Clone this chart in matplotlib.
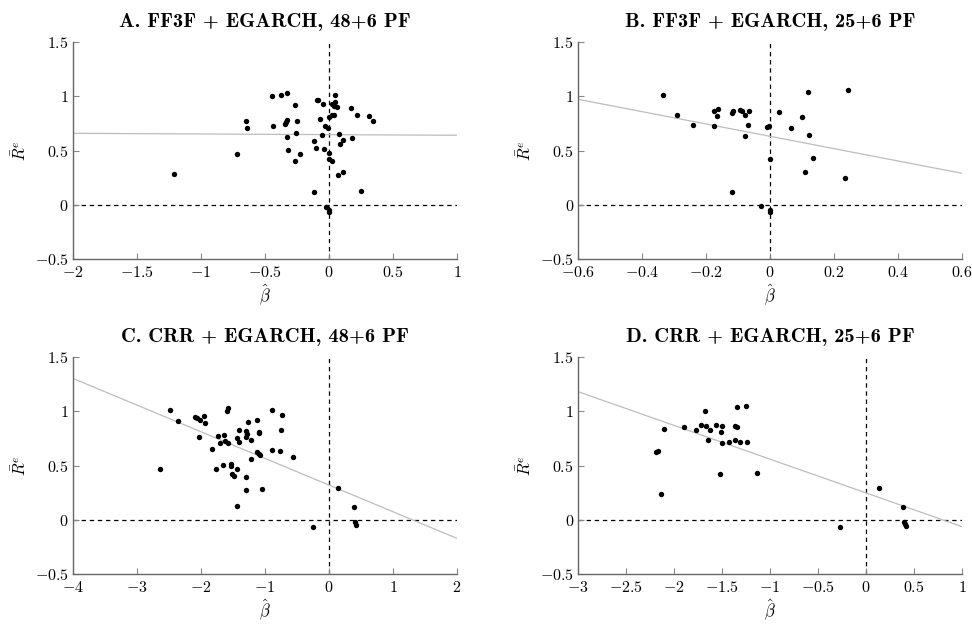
import matplotlib
matplotlib.use("Agg")
import matplotlib.pyplot as plt
import numpy as np
from matplotlib.ticker import FuncFormatter

plt.rcParams['mathtext.fontset'] = 'cm'
plt.rcParams['font.family'] = 'serif'
plt.rcParams['font.serif'] = ['cmr10', 'DejaVu Serif']
plt.rcParams['axes.unicode_minus'] = False

# average excess returns (same assets in both rows)
re_48 = [0.285, 0.472, 0.774, 0.712, 1.008, 1.011, 1.029, 0.925, 0.731, 0.743,
         0.765, 0.786, 0.771, 0.623, 0.660, 0.503, 0.472, 0.408, 0.971, 0.965,
         0.931, 0.789, 0.725, 0.712, 0.642, 0.589, 0.525, 0.512, 0.478, 0.426,
         0.402, 1.014, 0.952, 0.928, 0.912, 0.906, 0.808, 0.826, 0.832, 0.651,
         0.598, 0.562, 0.897, 0.829, 0.823, 0.774, 0.617, 0.278, 0.300, 0.122,
         0.128, -0.017, -0.048, -0.066]
beta_a = [-1.211, -0.716, -0.648, -0.641, -0.448, -0.378, -0.328, -0.266, -0.438, -0.344,
          -0.339, -0.326, -0.250, -0.326, -0.258, -0.318, -0.227, -0.263, -0.096, -0.089,
          -0.049, -0.070, -0.029, -0.005, -0.057, -0.115, -0.099, -0.039, 0.000, 0.000,
          0.026, 0.047, 0.047, 0.026, 0.039, 0.060, 0.000, 0.023, 0.036, 0.076,
          0.107, 0.089, 0.169, 0.221, 0.313, 0.346, 0.182, 0.070, 0.112, -0.115,
          0.247, -0.023, 0.000, 0.000]

re_c = [0.469, 1.011, 0.912, 0.952, 0.937, 0.922, 0.962, 0.894, 0.768, 0.654,
        0.771, 0.706, 0.780, 0.725, 0.709, 1.008, 1.029, 0.469, 0.503, 0.515,
        0.494, 0.420, 0.405, 0.472, 0.826, 0.758, 0.722, 0.823, 0.795, 0.768,
        0.734, 0.903, 0.558, 0.395, 0.272, 0.125, 0.918, 0.805, 0.814, 0.623,
        0.611, 0.595, 0.282, 1.011, 0.968, 0.826, 0.648, 0.635, 0.583, -0.069,
        0.294, 0.118, -0.020, -0.051]
beta_c = [-2.635, -2.479, -2.359, -2.094, -2.063, -2.010, -1.953, -1.932, -2.031, -1.823,
          -1.729, -1.708, -1.646, -1.625, -1.573, -1.594, -1.583, -1.771, -1.656, -1.531,
          -1.526, -1.521, -1.490, -1.443, -1.406, -1.432, -1.401, -1.292, -1.286, -1.297,
          -1.224, -1.260, -1.224, -1.297, -1.297, -1.432, -1.120, -1.089, -1.094, -1.130,
          -1.094, -1.078, -1.047, -0.885, -0.740, -0.745, -0.891, -0.766, -0.557, -0.255,
          0.146, 0.391, 0.406, 0.422]

re_b = [1.011, 0.832, 0.737, 0.725, 0.869, 0.882, 0.820, 0.845, 0.866, 0.872,
        0.863, 0.832, 0.869, 0.740, 0.635, 0.122, -0.014, -0.051, -0.066, 0.722,
        0.725, 0.423, 0.857, 0.712, 0.814, 1.045, 0.642, 0.432, 0.300, 0.245, 1.057]
beta_b = [-0.333, -0.292, -0.242, -0.176, -0.176, -0.163, -0.165, -0.120, -0.116, -0.095,
          -0.089, -0.077, -0.066, -0.068, -0.077, -0.118, -0.027, 0.000, 0.000, -0.009,
          -0.003, 0.000, 0.027, 0.066, 0.099, 0.119, 0.121, 0.134, 0.109, 0.233, 0.244]

re_d = [0.629, 0.635, 0.242, 0.842, 0.854, 0.826, 0.872, 1.005, 0.866, 0.734,
        0.826, 0.875, 0.814, 0.863, 0.709, 0.420, 0.722, 0.866, 0.734, 0.860,
        1.042, 0.715, 1.054, 0.722, 0.430, -0.069, 0.294, 0.115, -0.020, -0.038, -0.057]
beta_d = [-2.191, -2.167, -2.139, -2.101, -1.892, -1.767, -1.715, -1.677, -1.667, -1.646,
          -1.628, -1.566, -1.514, -1.503, -1.500, -1.524, -1.427, -1.368, -1.361, -1.344,
          -1.340, -1.316, -1.247, -1.236, -1.139, -0.267, 0.132, 0.385, 0.399, 0.410, 0.420]

titles = ['A. FF3F + EGARCH, 48+6 PF', 'B. FF3F + EGARCH, 25+6 PF',
          'C. CRR + EGARCH, 48+6 PF', 'D. CRR + EGARCH, 25+6 PF']
intercepts = [0.648, 0.6325, 0.321, 0.2485]
slopes = [-0.006, -0.569, -0.246, -0.3115]
xlims = [(-2, 1), (-0.6, 0.6), (-4, 2), (-3, 1)]
xticks = [np.arange(-2, 1.01, 0.5), np.arange(-0.6, 0.61, 0.2),
          np.arange(-4, 2.01, 1), np.arange(-3, 1.01, 0.5)]
yticks = [-0.5, 0, 0.5, 1, 1.5]

betas = [beta_a, beta_b, beta_c, beta_d]
rets = [re_48, re_b, re_c, re_d]

# axes boxes in figure fractions
lefts = [0.0751, 0.5947, 0.0751, 0.5947]
bottoms = [0.5856, 0.5856, 0.0816, 0.0816]
w, h = 0.395, 0.3467


def fmt(v, pos):
    v = round(v, 6)
    if abs(v) < 1e-9:
        v = 0.0
    return '$%g$' % v


fig = plt.figure(figsize=(9.72, 6.25), dpi=100)
for i in range(4):
    ax = fig.add_axes([lefts[i], bottoms[i], w, h])
    ax.set_xlim(*xlims[i])
    ax.set_ylim(-0.5, 1.5)
    ax.axhline(0, color='black', ls=(0, (3.5, 3)), lw=0.9, zorder=1)
    ax.axvline(0, color='black', ls=(0, (3.5, 3)), lw=0.9, zorder=1)
    xx = np.array(xlims[i])
    ax.plot(xx, intercepts[i] + slopes[i] * xx, color='#bdbdbd', lw=0.9, zorder=2)
    ax.scatter(betas[i], rets[i], s=15, color='black', zorder=3, linewidths=0)
    ax.set_xticks(xticks[i])
    ax.set_yticks(yticks)
    ax.xaxis.set_major_formatter(FuncFormatter(fmt))
    ax.yaxis.set_major_formatter(FuncFormatter(fmt))
    for s in ['top', 'right']:
        ax.spines[s].set_visible(False)
    for s in ['left', 'bottom']:
        ax.spines[s].set_color('#666666')
        ax.spines[s].set_linewidth(1.0)
    ax.tick_params(direction='in', length=4, width=0.8, color='#888888',
                   labelsize=11.5)
    ax.tick_params(axis='x', pad=4)
    ax.tick_params(axis='y', pad=3)
    ax.set_xlabel(r'$\hat{\beta}$', fontsize=12, labelpad=2)
    ax.set_ylabel(r'$\bar{R}^e$', fontsize=12, labelpad=4)
    ax.set_title(titles[i], fontsize=14.8, fontweight='bold',
                 fontname='cmb10', pad=11)

fig.savefig('out.png', dpi=100)
